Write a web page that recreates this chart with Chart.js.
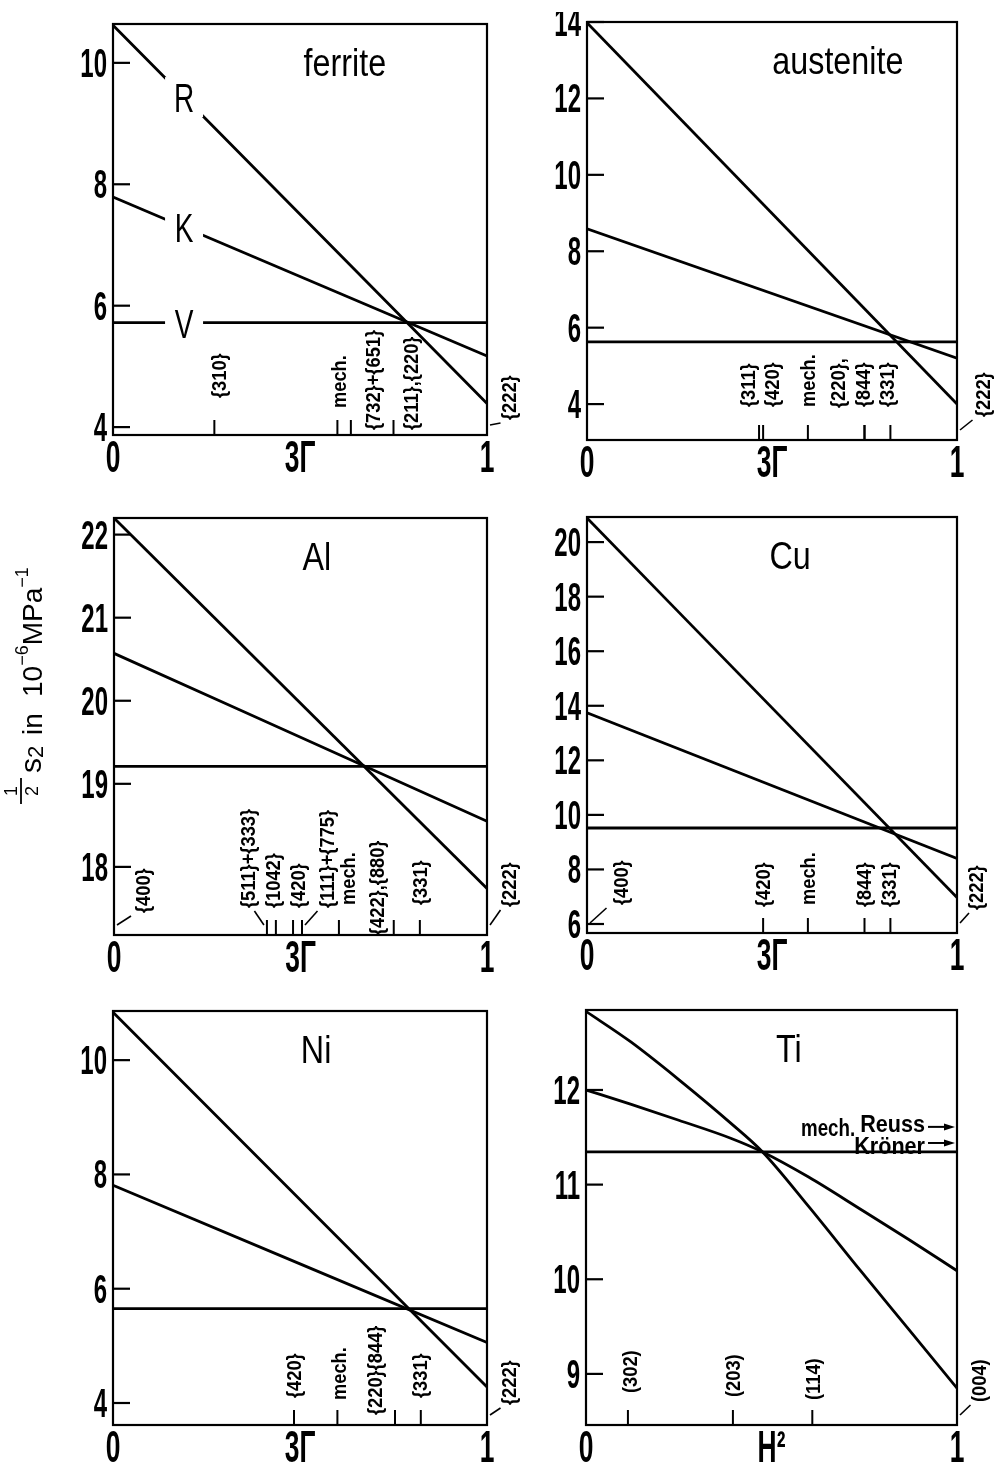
<!DOCTYPE html>
<html>
<head>
<meta charset="utf-8">
<script src="https://cdn.jsdelivr.net/npm/chart.js@4.4.1/dist/chart.umd.min.js"></script>
<style>
  html, body { margin: 0; padding: 0; background: #fff; }
  body { position: relative; width: 1002px; height: 1467px; overflow: hidden; }
  canvas { position: absolute; }
</style>
</head>
<body>
<canvas id="ferrite"></canvas>
<canvas id="austenite"></canvas>
<canvas id="al"></canvas>
<canvas id="cu"></canvas>
<canvas id="ni"></canvas>
<canvas id="ti"></canvas>
<script>
// ---- data ----
const cubicX = [0, 1];
const xTickPos = [0, 0.5, 1];
const xTickLabelsCubic = ['0', '3Γ', '1'];
const xTickLabelsHex = ['0', 'H²', '1'];

const ferriteYTicks = [4, 6, 8, 10];
const ferriteR = [10.62, 4.39];
const ferriteK = [7.79, 5.17];
const ferriteV = [5.72, 5.72];
const ferriteLineNames = ['R', 'K', 'V'];
const ferriteRefl = [0.271, 0.6, 0.636, 0.75, 1];
const ferriteReflLabels = ['{310}', 'mech.', '{732}+{651}', '{211},{220}', '{222}'];

const austeniteYTicks = [4, 6, 8, 10, 12, 14];
const austeniteR = [13.98, 4.0];
const austeniteK = [8.59, 5.2];
const austeniteV = [5.63, 5.63];
const austeniteRefl = [0.465, 0.476, 0.597, 0.75, 0.75, 0.82, 1];
const austeniteReflLabels = ['{311}', '{420}', 'mech.', '{220},', '{844}', '{331}', '{222}'];

const alYTicks = [18, 19, 20, 21, 22];
const alR = [22.2, 17.74];
const alK = [20.57, 18.55];
const alV = [19.21, 19.21];
const alRefl = [0, 0.41, 0.434, 0.48, 0.504, 0.603, 0.75, 0.82, 1];
const alReflLabels = ['{400}', '{511}+{333}', '{1042}', '{420}', '{111}+{775}', 'mech.', '{422},{880}', '{331}', '{222}'];

const cuYTicks = [6, 8, 10, 12, 14, 16, 18, 20];
const cuR = [20.88, 6.97];
const cuK = [13.74, 8.4];
const cuV = [9.52, 9.52];
const cuRefl = [0, 0.476, 0.597, 0.75, 0.82, 1];
const cuReflLabels = ['{400}', '{420}', 'mech.', '{844}', '{331}', '{222}'];

const niYTicks = [4, 6, 8, 10];
const niR = [10.84, 4.28];
const niK = [7.81, 5.06];
const niV = [5.65, 5.65];
const niRefl = [0.484, 0.6, 0.754, 0.823, 1];
const niReflLabels = ['{420}', 'mech.', '{220}{844}', '{331}', '{222}'];

const tiYTicks = [9, 10, 11, 12];
const tiX = [0, 0.12, 0.25, 0.39, 0.476, 0.6, 0.74, 0.87, 1];
const tiR = [12.83, 12.51, 12.11, 11.65, 11.345, 10.77, 10.09, 9.47, 8.85];
const tiK = [12.0, 11.85, 11.68, 11.49, 11.345, 11.08, 10.74, 10.42, 10.09];
const tiV = [11.345, 11.345];
const tiRefl = [0.113, 0.396, 0.61, 1];
const tiReflLabels = ['(302)', '(203)', '(114)', '(004)'];
const tiMechValues = [11.61, 11.44];
const tiMechLabels = ['Reuss', 'Kröner'];

// ---- layout (page pixels of each plot box, label nudges) ----
const FONT = '"Liberation Sans", Arial, sans-serif';
const INK = '#000';
const PT = 10, PR = 45, XH = 42;

const layout = {
  ferrite:   { left: 113, top: 24,   w: 374, h: 411, yw: 60,  yMin: 3.87,  yMax: 10.64, titleX: 0.62,
               dx: [4, 1, 22, 17, 21], lift: [37, 27, 5, 5, 15], leader: [0, 0, 0, 0, 1], nameAt: 0.19 },
  austenite: { left: 587, top: 22,   w: 370, h: 418, yw: 50,  yMin: 3.06,  yMax: 14.0,  titleX: 0.678,
               dx: [-12, 8, 0, -27, -2, -4, 25], lift: [33, 33, 33, 32, 33, 33, 23], leader: [0, 0, 0, 0, 0, 0, 1] },
  al:        { left: 114, top: 518,  w: 373, h: 417, yw: 110, yMin: 17.18, yMax: 22.2,  titleX: 0.544,
               dx: [28, -19, -3, 4, 25, 9, -17, 0, 21], lift: [22, 27, 27, 27, 27, 30, 0, 30, 28],
               leader: [1, 1, 0, 0, 1, 0, 0, 0, 1] },
  cu:        { left: 587, top: 517,  w: 370, h: 416, yw: 50,  yMin: 5.67,  yMax: 20.92, titleX: 0.549,
               dx: [33, -1, 0, -1, -2, 18], lift: [28, 26, 28, 26, 26, 23], leader: [1, 0, 0, 0, 0, 1] },
  ni:        { left: 113, top: 1011, w: 374, h: 414, yw: 60,  yMin: 3.615, yMax: 10.86, titleX: 0.543,
               dx: [-1, 1, -20, -1, 21], lift: [27, 25, 10, 27, 20], leader: [0, 0, 0, 0, 1] },
  ti:        { left: 586, top: 1010, w: 371, h: 415, yw: 50,  yMin: 8.46,  yMax: 12.845, titleX: 0.547,
               dx: [2, 0, 0, 21], lift: [32, 28, 25, 23], leader: [0, 0, 0, 1], mechDy: [5, 11] }
};

function pts(xs, ys) { return xs.map((x, i) => ({ x, y: ys[i] })); }

function line(ctx, x1, y1, x2, y2, w) {
  ctx.lineWidth = w;
  ctx.beginPath();
  ctx.moveTo(x1, y1);
  ctx.lineTo(x2, y2);
  ctx.stroke();
}

function text(ctx, str, x, y, o) {
  ctx.save();
  ctx.translate(x, y);
  if (o.rot) ctx.rotate(o.rot);
  ctx.scale(o.sx || 1, 1);
  ctx.font = o.font;
  ctx.textAlign = o.align || 'left';
  ctx.textBaseline = 'alphabetic';
  ctx.fillStyle = INK;
  ctx.fillText(str, 0, o.dy || 0);
  ctx.restore();
}

function yTitle(ctx, x0, y0) {
  ctx.save();
  ctx.translate(x0, y0);
  ctx.rotate(-Math.PI / 2);
  ctx.fillStyle = INK;
  ctx.strokeStyle = INK;
  ctx.textBaseline = 'alphabetic';
  let u = 0;
  const put = (s, size, v) => {
    ctx.font = size + 'px ' + FONT;
    ctx.textAlign = 'left';
    ctx.fillText(s, u, v);
    u += ctx.measureText(s).width;
  };
  line(ctx, 3, -21, 29, -21, 1.8);
  ctx.font = '18px ' + FONT;
  ctx.textAlign = 'center';
  ctx.fillText('1', 16, -25);
  ctx.fillText('2', 16, -4);
  u = 34; put('s', 30, -1); put('2', 22, 1);
  u = 72; put('in', 28, 0);
  u = 110; put('10', 28, 0); put('−6', 18, -14); put('MPa', 28, 0); put('−1', 18, -14);
  ctx.restore();
}

function deco(p) {
  const L = p.layout;
  return {
    id: 'deco_' + p.id,
    afterDatasetsDraw(chart) {
      const ctx = chart.ctx, a = chart.chartArea;
      const xs = chart.scales.x, ys = chart.scales.y;
      ctx.save();
      ctx.strokeStyle = INK;
      ctx.fillStyle = INK;

      if (p.extraBefore) p.extraBefore(chart, ctx);

      // frame
      ctx.lineWidth = 2.2;
      ctx.strokeRect(a.left, a.top, a.right - a.left, a.bottom - a.top);

      // inward y ticks + labels
      ys.ticks.forEach(t => {
        const py = ys.getPixelForValue(t.value);
        line(ctx, a.left, py, a.left + 17, py, 2.2);
        text(ctx, String(t.value), a.left - 6, py + 14, { font: 'bold 40px ' + FONT, sx: 0.6, align: 'right' });
      });

      // x labels
      xs.ticks.forEach((t, i) => {
        const px = xs.getPixelForValue(t.value);
        text(ctx, p.xLabels[i], px, a.bottom + 37, { font: 'bold 44px ' + FONT, sx: 0.6, align: 'center' });
      });

      // reflection markers
      p.refl.forEach((v, i) => {
        const px = xs.getPixelForValue(v);
        const dx = L.dx[i], lb = a.bottom - L.lift[i];
        if (v > 0 && v < 1) line(ctx, px, a.bottom, px, a.bottom - 15, 2);
        if (L.leader[i]) {
          const s = Math.sign(dx) || 1;
          line(ctx, px + s * 3, a.bottom - 10, px + s * 3 + dx / 2, lb + 3, 1.6);
        }
        text(ctx, p.reflLabels[i], px + dx, lb, { font: 'bold 21px ' + FONT, sx: 0.87, rot: -Math.PI / 2, dy: 7.5 });
      });

      // panel title
      text(ctx, p.title, a.left + L.titleX * (a.right - a.left), a.top + 52,
        { font: '38px ' + FONT, sx: 0.85, align: 'center' });

      if (p.extra) p.extra(chart, ctx);
      ctx.restore();
    }
  };
}

function panel(p) {
  const L = p.layout;
  const cv = document.getElementById(p.id);
  cv.width = L.w + L.yw + PR;
  cv.height = L.h + PT + XH;
  cv.style.left = (L.left - L.yw) + 'px';
  cv.style.top = (L.top - PT) + 'px';

  new Chart(cv, {
    type: 'line',
    data: {
      datasets: p.series.map(s => ({
        data: s,
        borderColor: INK,
        borderWidth: 2.8,
        pointRadius: 0,
        fill: false,
        cubicInterpolationMode: 'monotone'
      }))
    },
    options: {
      responsive: false,
      animation: false,
      events: [],
      layout: { padding: { top: PT, right: PR, left: 0, bottom: 0 } },
      plugins: { legend: { display: false }, tooltip: { enabled: false } },
      scales: {
        x: {
          type: 'linear', min: 0, max: 1,
          grid: { display: false }, border: { display: false }, ticks: { display: false },
          afterBuildTicks: s => { s.ticks = xTickPos.map(v => ({ value: v })); },
          afterFit: s => { s.height = XH; }
        },
        y: {
          type: 'linear', min: L.yMin, max: L.yMax,
          grid: { display: false }, border: { display: false }, ticks: { display: false },
          afterBuildTicks: s => { s.ticks = p.yTicks.map(v => ({ value: v })); },
          afterFit: s => { s.width = L.yw; }
        }
      }
    },
    plugins: [deco(p)]
  });
}

panel({
  id: 'ferrite', title: 'ferrite', layout: layout.ferrite, yTicks: ferriteYTicks, xLabels: xTickLabelsCubic,
  series: [pts(cubicX, ferriteR), pts(cubicX, ferriteK), pts(cubicX, ferriteV)],
  refl: ferriteRefl, reflLabels: ferriteReflLabels,
  extraBefore(chart, ctx) {
    const xs = chart.scales.x, ys = chart.scales.y, at = layout.ferrite.nameAt;
    [ferriteR, ferriteK, ferriteV].forEach((ser, i) => {
      const px = xs.getPixelForValue(at);
      const py = ys.getPixelForValue(ser[0] + (ser[1] - ser[0]) * at);
      ctx.fillStyle = '#fff';
      ctx.fillRect(px - 19, py - 20, 38, 40);
      ctx.fillStyle = INK;
      text(ctx, ferriteLineNames[i], px, py + 15, { font: '40px ' + FONT, sx: 0.7, align: 'center' });
    });
  }
});

panel({
  id: 'austenite', title: 'austenite', layout: layout.austenite, yTicks: austeniteYTicks, xLabels: xTickLabelsCubic,
  series: [pts(cubicX, austeniteR), pts(cubicX, austeniteK), pts(cubicX, austeniteV)],
  refl: austeniteRefl, reflLabels: austeniteReflLabels
});

panel({
  id: 'al', title: 'Al', layout: layout.al, yTicks: alYTicks, xLabels: xTickLabelsCubic,
  series: [pts(cubicX, alR), pts(cubicX, alK), pts(cubicX, alV)],
  refl: alRefl, reflLabels: alReflLabels,
  extra(chart, ctx) {
    const a = chart.chartArea;
    yTitle(ctx, a.left - 72, a.top + 289);
  }
});

panel({
  id: 'cu', title: 'Cu', layout: layout.cu, yTicks: cuYTicks, xLabels: xTickLabelsCubic,
  series: [pts(cubicX, cuR), pts(cubicX, cuK), pts(cubicX, cuV)],
  refl: cuRefl, reflLabels: cuReflLabels
});

panel({
  id: 'ni', title: 'Ni', layout: layout.ni, yTicks: niYTicks, xLabels: xTickLabelsCubic,
  series: [pts(cubicX, niR), pts(cubicX, niK), pts(cubicX, niV)],
  refl: niRefl, reflLabels: niReflLabels
});

panel({
  id: 'ti', title: 'Ti', layout: layout.ti, yTicks: tiYTicks, xLabels: xTickLabelsHex,
  series: [pts(tiX, tiR), pts(tiX, tiK), pts(cubicX, tiV)],
  refl: tiRefl, reflLabels: tiReflLabels,
  extra(chart, ctx) {
    const a = chart.chartArea, ys = chart.scales.y, L = layout.ti;
    const f = 'bold 24px ' + FONT;
    let reussLeft = 0;
    tiMechValues.forEach((v, i) => {
      const py = ys.getPixelForValue(v);
      const x2 = a.right - 2;
      line(ctx, a.right - 29, py, x2 - 8, py, 2);
      ctx.beginPath();
      ctx.moveTo(x2, py);
      ctx.lineTo(x2 - 11, py - 3.5);
      ctx.lineTo(x2 - 11, py + 3.5);
      ctx.closePath();
      ctx.fill();
      text(ctx, tiMechLabels[i], a.right - 32, py + L.mechDy[i], { font: f, sx: 0.9, align: 'right' });
      if (i === 0) {
        ctx.font = f;
        reussLeft = a.right - 32 - ctx.measureText(tiMechLabels[i]).width * 0.9;
      }
    });
    const mid = (ys.getPixelForValue(tiMechValues[0]) + ys.getPixelForValue(tiMechValues[1])) / 2;
    text(ctx, 'mech.', reussLeft - 5, mid + 1, { font: 'bold 24px ' + FONT, sx: 0.78, align: 'right' });
  }
});
</script>
</body>
</html>
